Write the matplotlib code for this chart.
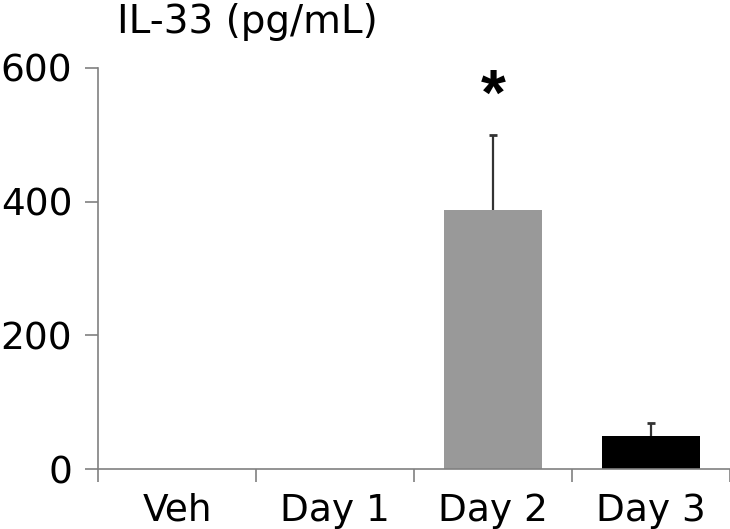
import matplotlib.pyplot as plt
import numpy as np

# Data
categories = ['Veh', 'Day 1', 'Day 2', 'Day 3']
il33 = np.array([0, 0, 388, 49])
il33_err = np.array([0, 0, 112, 20])
bar_colors = ['#999999', '#999999', '#999999', '#000000']
yticks = [0, 200, 400, 600]

plt.rcParams['font.family'] = ['DejaVu Sans']

fig = plt.figure(figsize=(7.3, 5.29), dpi=100)
ax = fig.add_axes([98 / 730, 60 / 529, 632 / 730, 401 / 529])

x = np.arange(len(categories))
ax.bar(x, il33, width=0.62, color=bar_colors, zorder=2)

# upward-only error bars
has_err = il33_err > 0
tops = il33 + il33_err
ax.vlines(x[has_err], il33[has_err], tops[has_err], color='#333333', linewidth=1.6, zorder=3)
ax.plot(x[has_err], tops[has_err], linestyle='none', marker='_', markersize=6,
        markeredgewidth=2, color='#333333', zorder=3)

# significance marker
ax.text(2, tops[2] + 55, '*', ha='center', va='center',
        fontsize=46, fontweight='bold', family='Liberation Sans')

ax.set_ylim(0, 600)
ax.set_xlim(-0.5, 3.46)
ax.set_yticks(yticks)
ax.set_yticklabels([str(t) for t in yticks], fontsize=27)
ax.set_xticks(x)
ax.set_xticklabels(categories, fontsize=27)
ax.set_xticks(np.arange(-0.5, len(categories), 1.0), minor=True)
ax.tick_params(axis='x', which='major', length=0, pad=17)
ax.tick_params(axis='x', which='minor', length=9, width=1.2, color='#808080')
ax.tick_params(axis='y', length=9.5, width=1.2, color='#808080', pad=9)

for s in ['top', 'right']:
    ax.spines[s].set_visible(False)
for s in ['left', 'bottom']:
    ax.spines[s].set_color('#808080')
    ax.spines[s].set_linewidth(1.2)

fig.text(117 / 730, 1 - 33 / 529, 'IL-33 (pg/mL)', fontsize=28, va='baseline', ha='left')

plt.savefig('out.png', dpi=100)
